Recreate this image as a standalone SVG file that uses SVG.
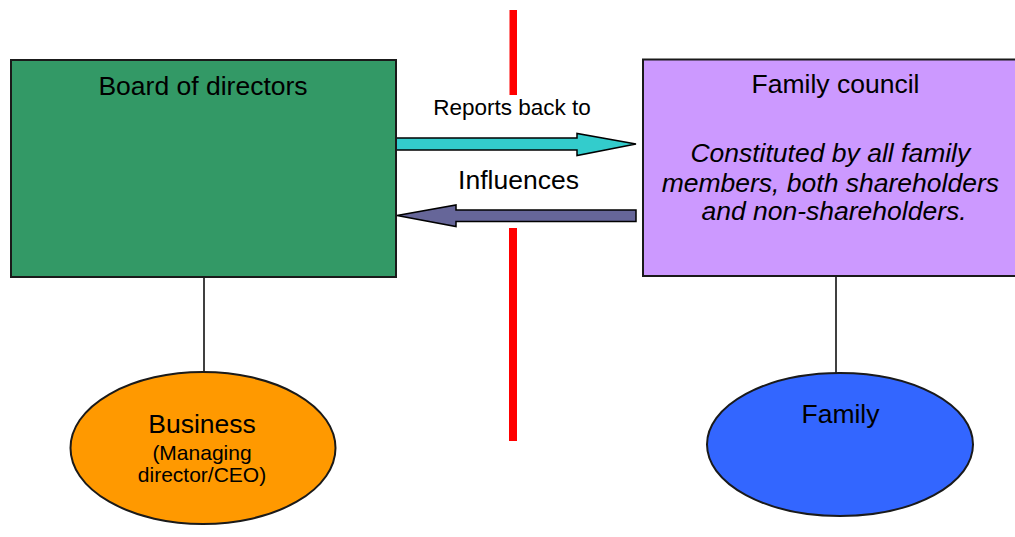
<svg xmlns="http://www.w3.org/2000/svg" width="1015" height="537" viewBox="0 0 1015 537">
  <style>
    text { font-family: "Liberation Sans", Arial, sans-serif; fill: #000; }
    .box { stroke: #1a1a1a; stroke-width: 2; }
    .link { stroke: #000; stroke-width: 1.5; fill: none; }
    .arrow { stroke: #000; stroke-width: 1.5; stroke-linejoin: miter; }
    .divider { fill: #ff0000; }
    .big { font-size: 26.5px; }
  </style>
  <rect width="1015" height="537" fill="#ffffff"/>

  <!-- red dividing line, split around the arrows -->
  <g id="divider">
    <rect class="divider" x="509.5" y="10" width="7.5" height="85"/>
    <rect class="divider" x="509" y="228" width="8" height="213"/>
  </g>

  <!-- connectors -->
  <g id="connectors">
    <line class="link" x1="204" y1="277" x2="204" y2="372"/>
    <line class="link" x1="836" y1="276" x2="836" y2="373"/>
    <!-- block arrow: board -> family council -->
    <polygon class="arrow" fill="#33cccc" points="396,138 577,138 577,133.5 636,144 577,155.5 577,150 396,150"/>
    <text x="512" y="115" font-size="22.5" text-anchor="middle">Reports back to</text>
    <!-- block arrow: family council -> board -->
    <polygon class="arrow" fill="#666699" points="636,210 456,210 456,205 397,215.5 456,226.5 456,221.5 636,221.5"/>
    <text class="big" x="518.5" y="189" text-anchor="middle">Influences</text>
  </g>

  <g id="board">
    <rect class="box" x="11" y="60" width="385" height="217" fill="#339966"/>
    <text class="big" x="203" y="95" text-anchor="middle">Board of directors</text>
  </g>

  <g id="family-council">
    <rect class="box" x="643" y="59.5" width="380" height="216.5" fill="#cc99ff"/>
    <text class="big" x="835.5" y="93" text-anchor="middle">Family council</text>
    <text class="big" font-style="italic" text-anchor="middle">
      <tspan x="834" y="162">Constituted by all family</tspan>
      <tspan x="834" y="192">members, both shareholders</tspan>
      <tspan x="834" y="220">and non-shareholders.</tspan>
    </text>
  </g>

  <g id="business">
    <ellipse class="box" cx="203" cy="448" rx="132.5" ry="76" fill="#ff9900" stroke-width="1.5"/>
    <text class="big" x="202" y="433" text-anchor="middle">Business</text>
    <text x="202" y="460" font-size="21" text-anchor="middle">(Managing</text>
    <text x="202" y="482" font-size="21" text-anchor="middle">director/CEO)</text>
  </g>

  <g id="family">
    <ellipse class="box" cx="840" cy="444.5" rx="133" ry="71.5" fill="#3366ff" stroke-width="1.5"/>
    <text class="big" x="840.5" y="423" text-anchor="middle">Family</text>
  </g>
</svg>
